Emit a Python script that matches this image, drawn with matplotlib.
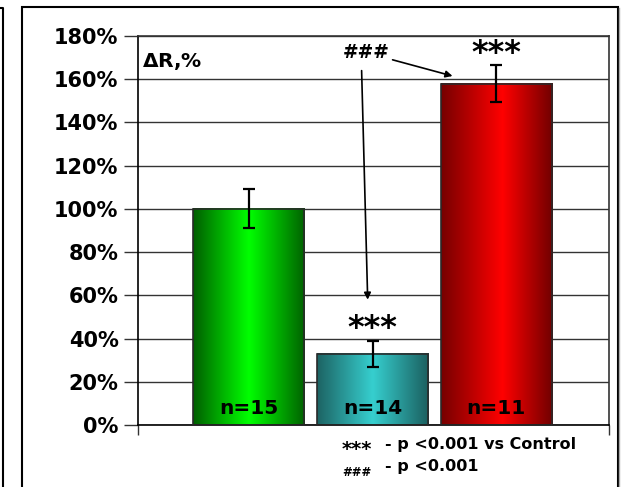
import matplotlib
matplotlib.use("Agg")
import matplotlib.pyplot as plt
import numpy as np
from matplotlib.colors import LinearSegmentedColormap
from matplotlib.patches import Rectangle
from matplotlib.lines import Line2D
from matplotlib.ticker import FuncFormatter

plt.rcParams['font.family'] = 'DejaVu Sans'
plt.rcParams['font.weight'] = 'bold'

# data
groups = ['Control', 'Group 2', 'Group 3']
values = [100, 33, 158]          # delta R, %
errors = [9, 6, 8.5]
n_labels = ['n=15', 'n=14', 'n=11']
stars = ['', '***', '***']
yticks = [0, 20, 40, 60, 80, 100, 120, 140, 160, 180]

# edge / centre / edge colours for the shaded bars
shades = [
    ['#005e00', '#00ff00', '#006200'],
    ['#1d6363', '#36cfcf', '#1b5f5f'],
    ['#760000', '#ff0000', '#700000'],
]
centre_pos = [0.5, 0.5, 0.55]

fig = plt.figure(figsize=(6.27, 4.87), dpi=100)
ax = fig.add_axes([0.2201, 0.1273, 0.7512, 0.7987])

x = np.arange(len(values))
width = 0.9
grad = np.linspace(0, 1, 256).reshape(1, -1)

for i, (xi, v) in enumerate(zip(x, values)):
    cmap = LinearSegmentedColormap.from_list(
        'bar%d' % i, [(0, shades[i][0]), (centre_pos[i], shades[i][1]), (1, shades[i][2])])
    ax.imshow(grad, extent=[xi - width / 2, xi + width / 2, 0, v],
              aspect='auto', cmap=cmap, zorder=2, interpolation='bilinear')

ax.bar(x, values, width=width, facecolor='none', edgecolor='#2a2a2a',
       linewidth=1.2, zorder=3)
ax.errorbar(x, values, yerr=errors, fmt='none', ecolor='black',
            elinewidth=1.6, capsize=4.5, capthick=1.6, zorder=4)

for xi, v, e, s, lab in zip(x, values, errors, stars, n_labels):
    ax.text(xi, 7.5, lab, ha='center', va='center', fontsize=14.5,
            fontweight='bold', color='black', zorder=5)
    if s:
        # the asterisk glyph sits high above the baseline
        ax.text(xi, v + e + 1.5, s, ha='center', va='baseline', fontsize=23,
                fontweight='bold', zorder=5)

ax.text(-0.865, 168, r'$\Delta$R,%', ha='left', va='center', fontsize=14.5,
        fontweight='bold')
ax.text(0.945, 172.5, '###', ha='center', va='center', fontsize=13.5,
        fontweight='bold')

arrow = dict(arrowstyle='-|>', color='black', lw=1.2, mutation_scale=10,
             shrinkA=0, shrinkB=0)
ax.annotate('', xy=(1.646, 161.5), xytext=(1.162, 169), arrowprops=arrow)
ax.annotate('', xy=(0.961, 58), xytext=(0.912, 164), arrowprops=arrow)

ax.set_xlim(-0.894, 2.91)
ax.set_ylim(0, 180)
ax.set_yticks(yticks)
ax.yaxis.set_major_formatter(FuncFormatter(lambda v, p: '%d%%' % v))
ax.set_xticks([-0.894, 2.91])
ax.set_xticklabels([])
ax.tick_params(axis='y', direction='out', length=10, width=1, labelsize=15,
               pad=4, color='#333333')
ax.tick_params(axis='x', direction='out', length=7, width=1, color='#333333')
for lab in ax.get_yticklabels():
    lab.set_fontweight('bold')

ax.grid(axis='y', color='#333333', linewidth=1, zorder=1)
ax.set_axisbelow(True)
for side in ['left', 'bottom']:
    ax.spines[side].set_color('black')
    ax.spines[side].set_linewidth(1.2)
for side in ['top', 'right']:
    ax.spines[side].set_color('#333333')
    ax.spines[side].set_linewidth(1.2)

# significance notes under the axis
fig.text(342 / 627, 1 - 450 / 487, '***', ha='left', va='center',
         fontsize=14, fontweight='bold')
fig.text(385 / 627, 1 - 445 / 487, '- p <0.001 vs Control', ha='left',
         va='center', fontsize=11.5, fontweight='bold')
fig.text(342 / 627, 1 - 472 / 487, '###', ha='left', va='center',
         fontsize=8.5, fontweight='bold')
fig.text(385 / 627, 1 - 466 / 487, '- p <0.001', ha='left',
         va='center', fontsize=11.5, fontweight='bold')

# outer frames
fig.add_artist(Rectangle((22 / 627, -0.05), (618 - 22) / 627, 1.05 - 7 / 487,
                         transform=fig.transFigure, fill=False,
                         edgecolor='black', linewidth=1.5))
fig.add_artist(Line2D([618.5 / 627, 618.5 / 627], [0, 1 - 8 / 487],
                      transform=fig.transFigure, color='#aaaaaa', linewidth=1))
fig.add_artist(Line2D([2.5 / 627, 2.5 / 627, 0], [0, 1 - 8 / 487, 1 - 8 / 487],
                      transform=fig.transFigure, color='black', linewidth=1.5))

fig.savefig('out.png', dpi=100)
